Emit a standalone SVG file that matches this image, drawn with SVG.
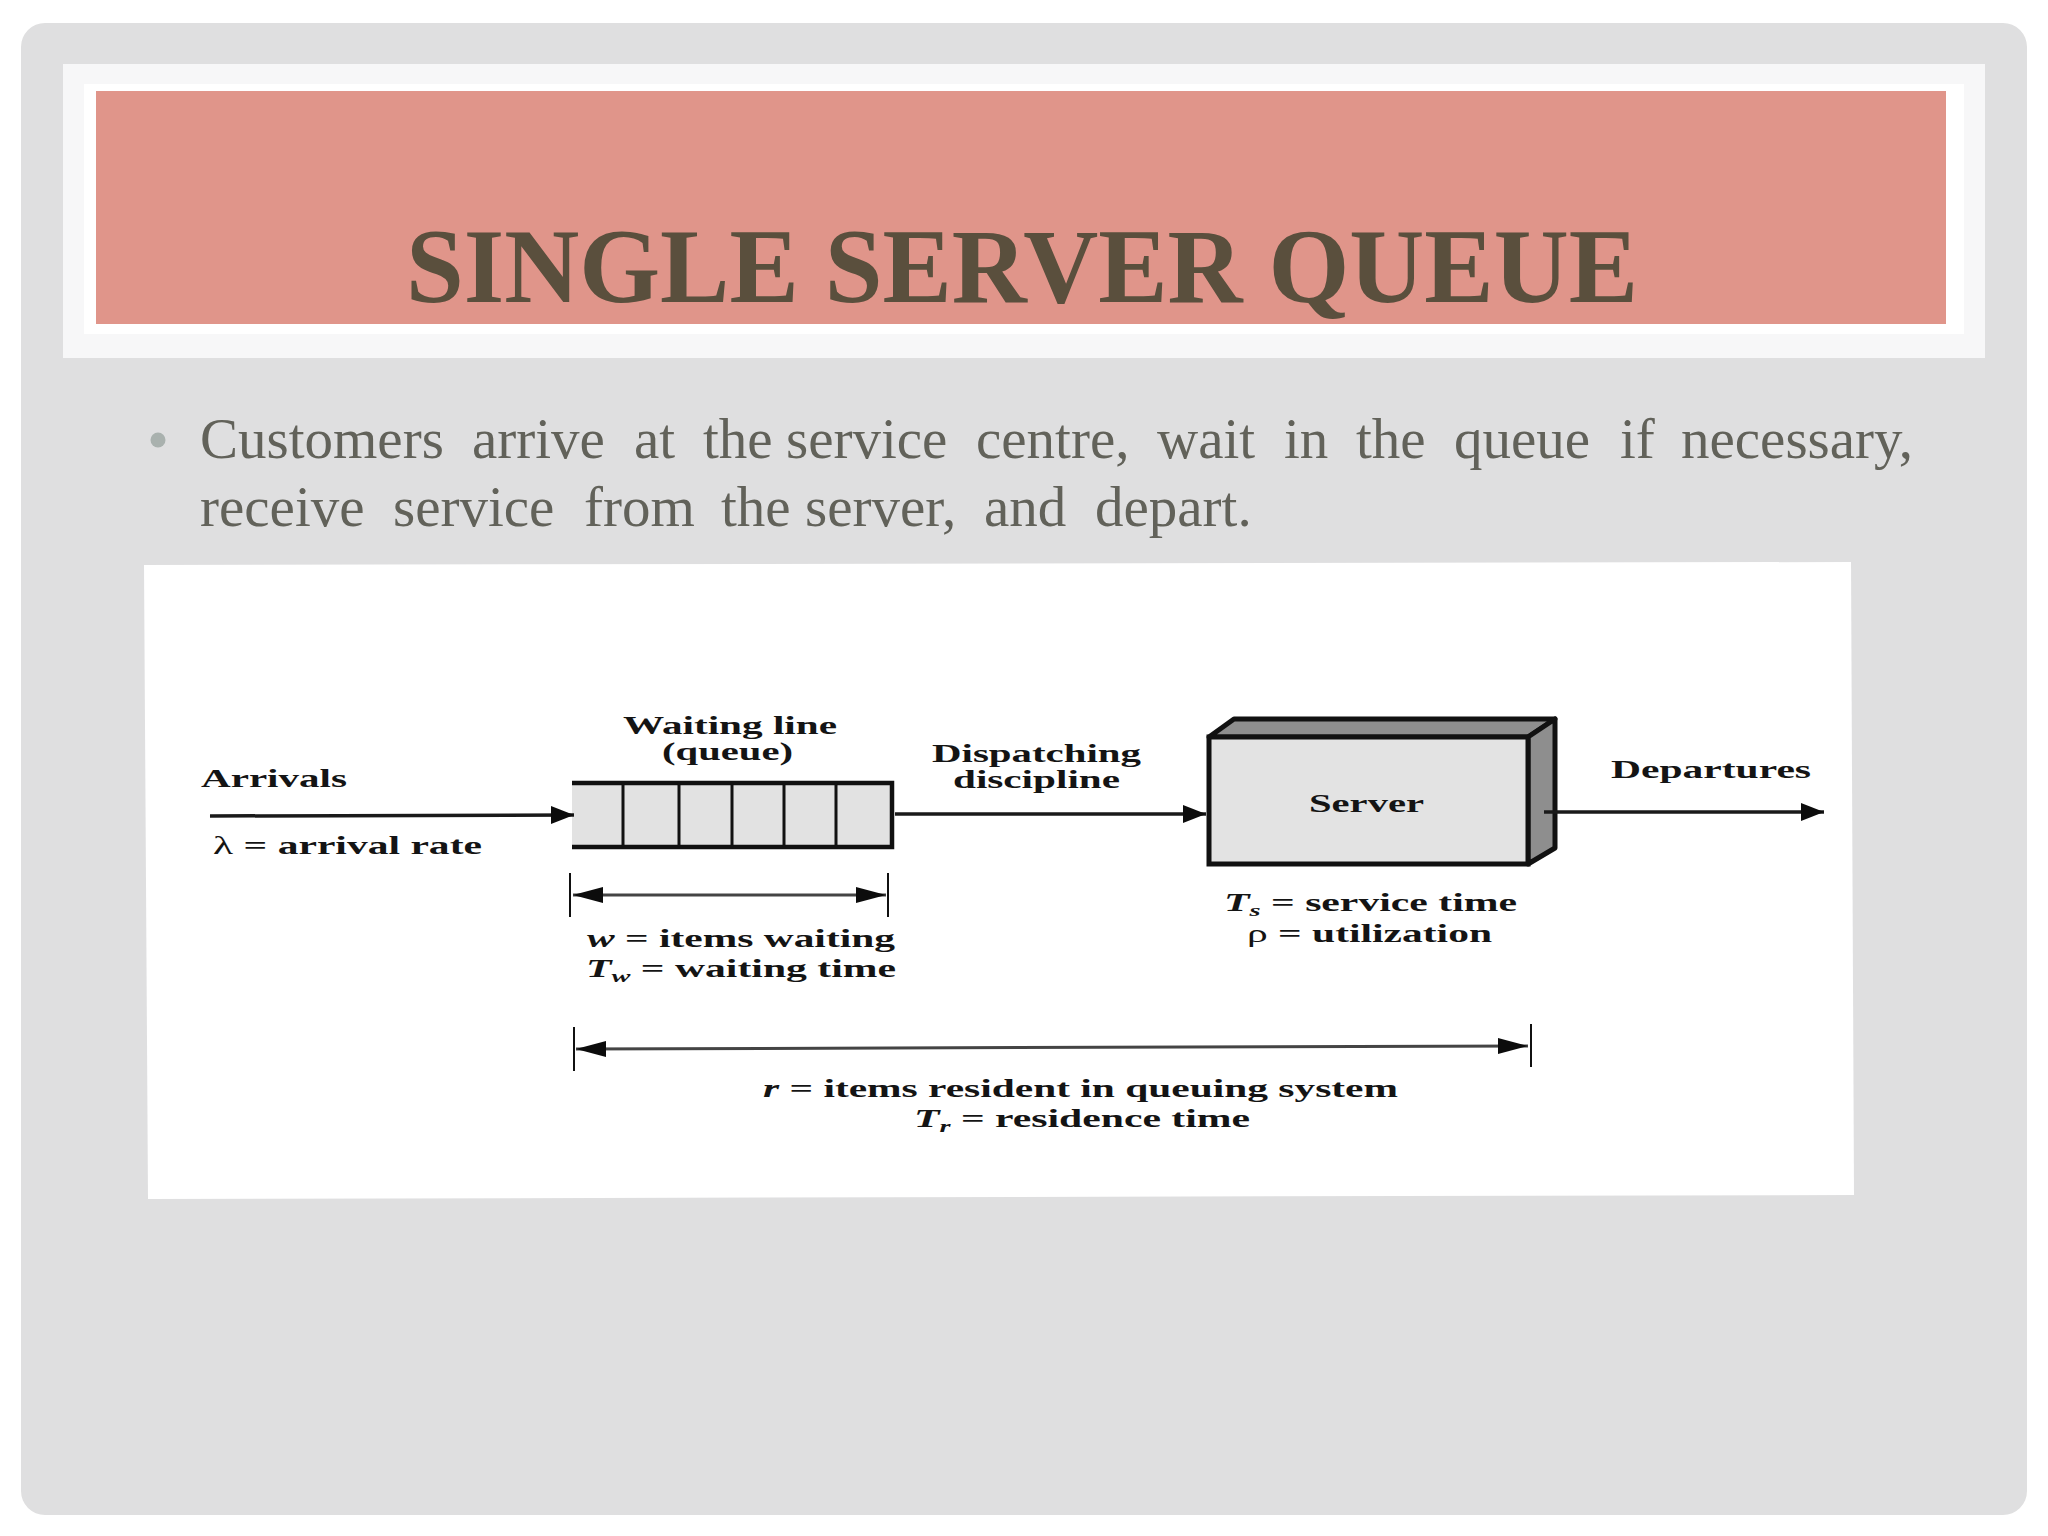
<svg xmlns="http://www.w3.org/2000/svg" width="2048" height="1536" viewBox="0 0 2048 1536">
<defs>
<marker id="ah" markerUnits="userSpaceOnUse" markerWidth="26" markerHeight="20" refX="23" refY="9" orient="auto"><path d="M0 0L23 9L0 18Z" fill="#0c0c0c"/></marker>
<marker id="dh" markerUnits="userSpaceOnUse" markerWidth="32" markerHeight="18" refX="30" refY="8" orient="auto-start-reverse"><path d="M0 0L30 8L0 16Z" fill="#0c0c0c"/></marker>
</defs>
<style>
.d{font-family:"Liberation Serif","Times New Roman",serif;font-weight:700;font-size:25px;fill:#141414}
.i{font-style:italic}
.n{font-weight:400}
.s{font-size:17px}
.body{font-family:"Liberation Serif","Times New Roman",serif;font-size:57px;fill:#62625a}
.l{fill:none;stroke:#111;stroke-width:4.5}
.t{fill:none;stroke:#111;stroke-width:2}
.c{fill:none;stroke:#1a1a1a;stroke-width:3.5;marker-end:url(#ah)}
.dim{fill:none;stroke:#444;stroke-width:3;marker-start:url(#dh);marker-end:url(#dh)}
</style>
<rect width="2048" height="1536" fill="#fff"/>
<rect x="21" y="23" width="2006" height="1492" rx="24" fill="#dfdfe0"/>
<g id="title">
<rect x="63" y="64" width="1922" height="294" fill="#f7f7f8"/>
<rect x="84" y="84" width="1880" height="250" fill="#fff"/>
<rect x="96" y="91" width="1850" height="233" fill="#e0958a"/>
<text x="406" y="302" textLength="1232" lengthAdjust="spacingAndGlyphs" style="font-family:'Liberation Serif',serif;font-weight:700;font-size:106px;fill:#5a4f3d">SINGLE SERVER QUEUE</text>
</g>
<g id="bullets">
<circle cx="158" cy="440" r="7.5" fill="#a9b1ae"/>
<text class="body" y="458"><tspan x="200">Customers</tspan><tspan x="472">arrive</tspan><tspan x="634">at</tspan><tspan x="703">the</tspan><tspan x="786">service</tspan><tspan x="976">centre,</tspan><tspan x="1157">wait</tspan><tspan x="1284">in</tspan><tspan x="1356">the</tspan><tspan x="1454">queue</tspan><tspan x="1620">if</tspan><tspan x="1681">necessary,</tspan></text>
<text class="body" y="526"><tspan x="200">receive</tspan><tspan x="393">service</tspan><tspan x="584">from</tspan><tspan x="721">the</tspan><tspan x="805">server,</tspan><tspan x="984">and</tspan><tspan x="1095">depart.</tspan></text>
</g>
<polygon id="figure" points="144,565 1851,562 1854,1195 148,1199" fill="#fff"/>
<g id="queue">
<rect x="572" y="783" width="320" height="64" fill="#e2e2e2"/>
<path class="l" d="M572 783H892V847H572"/>
<path class="t" style="stroke-width:3" d="M623 783V847M679 783V847M732 783V847M784 783V847M836 783V847"/>
<text class="d" x="623" y="734" textLength="214" lengthAdjust="spacingAndGlyphs">Waiting line</text>
<text class="d" x="662" y="760" textLength="131" lengthAdjust="spacingAndGlyphs">(queue)</text>
</g>
<g id="server">
<path d="M1209 737L1234 719H1555L1528 737Z" fill="#8e8e8e" stroke="#111" stroke-width="5" stroke-linejoin="round"/>
<path d="M1528 737L1555 719V848L1528 864Z" fill="#8e8e8e" stroke="#111" stroke-width="5" stroke-linejoin="round"/>
<rect x="1209" y="737" width="319" height="127" fill="#e3e3e3" stroke="#111" stroke-width="5"/>
<text class="d" x="1309" y="812" textLength="115" lengthAdjust="spacingAndGlyphs">Server</text>
</g>
<g id="connectors">
<path class="c" d="M210 816L574 815"/>
<path class="c" d="M895 814H1206"/>
<path class="c" d="M1544 812H1824"/>
<path class="dim" d="M573 895H886"/>
<path class="dim" d="M576 1049L1528 1046"/>
<path class="t" d="M570 873V917M888 873V917M574 1027V1071M1531 1024V1067"/>
</g>
<g id="labels">
<text class="d" x="201" y="787" textLength="146" lengthAdjust="spacingAndGlyphs">Arrivals</text>
<text class="d" x="213" y="854" textLength="269" lengthAdjust="spacingAndGlyphs"><tspan class="n">λ</tspan> = arrival rate</text>
<text class="d" x="587" y="947" textLength="308" lengthAdjust="spacingAndGlyphs"><tspan class="i">w</tspan> = items waiting</text>
<text class="d" x="586" y="977" textLength="310" lengthAdjust="spacingAndGlyphs"><tspan class="i">T</tspan><tspan class="i s" dy="5">w</tspan><tspan dy="-5"> = waiting time</tspan></text>
<text class="d" x="932" y="762" textLength="209" lengthAdjust="spacingAndGlyphs">Dispatching</text>
<text class="d" x="953" y="788" textLength="167" lengthAdjust="spacingAndGlyphs">discipline</text>
<text class="d" x="1611" y="778" textLength="200" lengthAdjust="spacingAndGlyphs">Departures</text>
<text class="d" x="1224" y="911" textLength="293" lengthAdjust="spacingAndGlyphs"><tspan class="i">T</tspan><tspan class="i s" dy="5">s</tspan><tspan dy="-5"> = service time</tspan></text>
<text class="d" x="1247" y="942" textLength="245" lengthAdjust="spacingAndGlyphs"><tspan class="n">ρ</tspan> = utilization</text>
<text class="d" x="763" y="1097" textLength="635" lengthAdjust="spacingAndGlyphs"><tspan class="i">r</tspan> = items resident in queuing system</text>
<text class="d" x="914" y="1127" textLength="336" lengthAdjust="spacingAndGlyphs"><tspan class="i">T</tspan><tspan class="i s" dy="5">r</tspan><tspan dy="-5"> = residence time</tspan></text>
</g>
</svg>
